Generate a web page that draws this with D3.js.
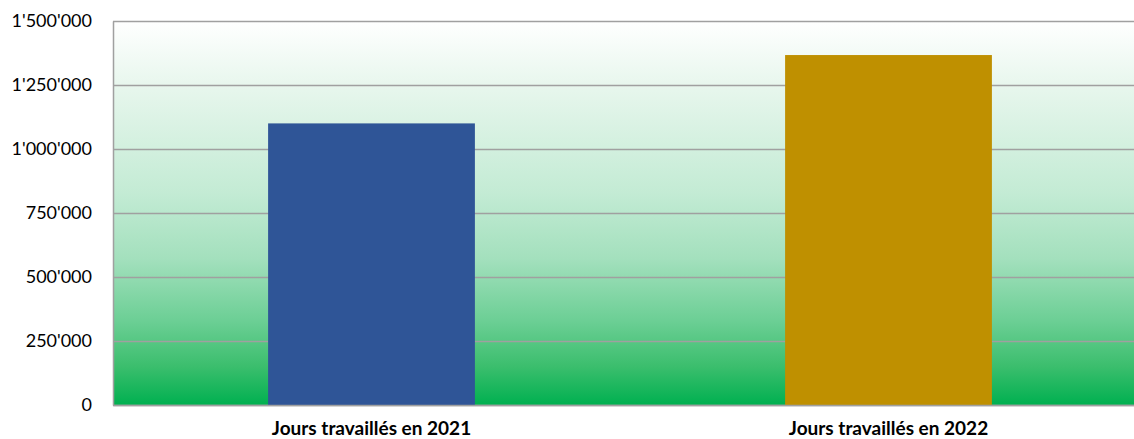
<!DOCTYPE html>
<html>
<head>
<meta charset="utf-8">
<script src="https://cdn.jsdelivr.net/npm/d3@7"></script>
<style>
  html, body { margin: 0; padding: 0; background: #ffffff; }
  svg { display: block; }
</style>
</head>
<body>
<svg id="chart" width="1134" height="439"></svg>
<script>
// Working days per year
const categories = ["Jours travaillés en 2021", "Jours travaillés en 2022"];
const values = [1100000, 1367000];
const barColors = ["#2f5597", "#bf9000"];
const yTicks = [0, 250000, 500000, 750000, 1000000, 1250000, 1500000];

const svg = d3.select("#chart");
const plot = { left: 113, right: 1147, top: 21, bottom: 405 };

const x = d3.scaleBand()
  .domain(categories)
  .range([plot.left, plot.right])
  .paddingInner(0.6)
  .paddingOuter(0.3);

const y = d3.scaleLinear()
  .domain([0, 1500000])
  .range([plot.bottom, plot.top]);

// Plot-area background: white fading into green
const defs = svg.append("defs");
const grad = defs.append("linearGradient")
  .attr("id", "bg")
  .attr("x1", 0).attr("y1", 0).attr("x2", 0).attr("y2", 1);
[["0%", "#ffffff"], ["18%", "#e6f6ec"], ["45%", "#c3ebd4"], ["62%", "#a3e0bd"],
 ["78%", "#6ccf95"], ["90%", "#3bbe6d"], ["100%", "#00b050"]]
  .forEach(([o, c]) => grad.append("stop").attr("offset", o).attr("stop-color", c));

svg.append("rect")
  .attr("x", plot.left).attr("y", plot.top)
  .attr("width", plot.right - plot.left).attr("height", plot.bottom - plot.top)
  .attr("fill", "url(#bg)");

// Horizontal gridlines
const fmt = v => d3.format(",")(v).replace(/,/g, "'");
svg.append("g")
  .attr("transform", `translate(${plot.left},0)`)
  .call(d3.axisLeft(y).tickValues(yTicks).tickSize(-(plot.right - plot.left)).tickFormat(""))
  .call(g => g.select(".domain").remove())
  .call(g => g.selectAll(".tick line").attr("stroke", "#a0a0a0").attr("stroke-width", 1.5));

// Bars
svg.append("g").selectAll("rect")
  .data(categories)
  .join("rect")
  .attr("x", d => x(d))
  .attr("width", x.bandwidth())
  .attr("y", (d, i) => y(values[i]))
  .attr("height", (d, i) => y(0) - y(values[i]))
  .attr("fill", (d, i) => barColors[i]);

// Y axis labels
svg.append("g")
  .attr("transform", `translate(${plot.left},0)`)
  .call(d3.axisLeft(y).tickValues(yTicks).tickSize(0).tickPadding(21).tickFormat(fmt))
  .call(g => g.select(".domain").attr("stroke", "#a0a0a0").attr("stroke-width", 1.5))
  .call(g => g.selectAll("text")
    .attr("font-family", "Lato, 'Noto Sans', sans-serif")
    .attr("font-size", "18px")
    .attr("fill", "#000"));

// X axis
svg.append("g")
  .attr("transform", `translate(0,${plot.bottom})`)
  .call(d3.axisBottom(x).tickSize(0))
  .call(g => g.select(".domain").attr("stroke", "#a0a0a0").attr("stroke-width", 1.5))
  .call(g => g.selectAll("text")
    .attr("y", 30)
    .attr("dy", null)
    .attr("font-family", "Lato, 'Noto Sans', sans-serif")
    .attr("font-weight", "bold")
    .attr("font-size", "19px")
    .attr("fill", "#000"));
</script>
</body>
</html>
